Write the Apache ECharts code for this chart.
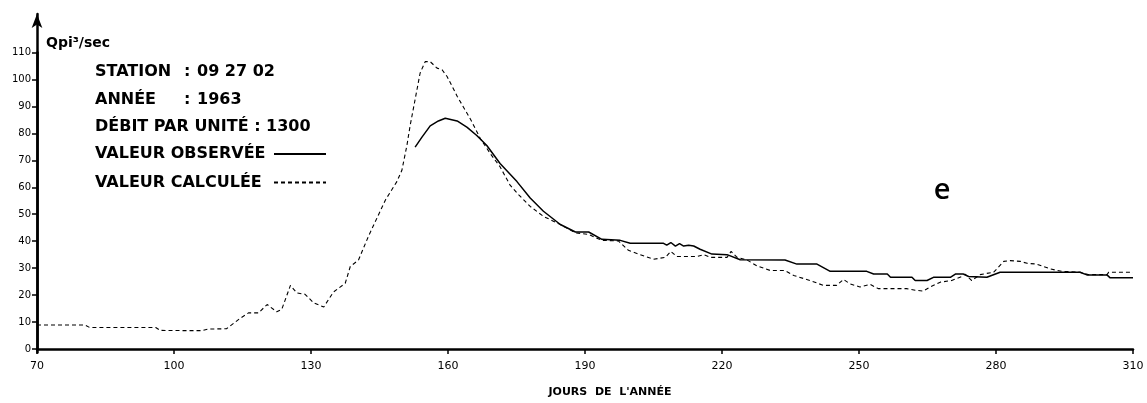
<!DOCTYPE html>
<html>
<head>
<meta charset="utf-8">
<script src="https://cdn.jsdelivr.net/npm/echarts@6/dist/echarts.min.js"></script>
<style>
html,body{margin:0;padding:0;background:#fff;}
#chart{width:1147px;height:403px;}
</style>
</head>
<body>
<div id="chart"></div>
<script>
// ---- data ----
var xTicks = [70, 100, 130, 160, 190, 220, 250, 280, 310];
var yTicks = [0, 10, 20, 30, 40, 50, 60, 70, 80, 90, 100, 110];

var calcDays = [70, 80.5, 81.5, 96, 97, 104, 106, 107.5, 111.5, 114.5, 116.3, 118.5, 120.4, 122.5, 123.6,
  125.5, 126.9, 128.7, 130.6, 132.8, 134.9, 137.5, 138.6, 140.4, 142.6, 146.3, 148.8, 149.9, 151, 151.7,
  152.8, 153.9, 155, 156.1, 157.6, 158.7, 159.8, 162, 164.9, 167.1, 169.3, 171.4, 173.6, 175.5, 178,
  180.9, 184.6, 187.9, 190.8, 193.7, 197.3, 199.5, 202.1, 205, 207.6, 208.8, 210.1, 214.5, 216, 217.5,
  221.1, 222, 223.3, 225.5, 227.6, 230.6, 233.8, 235.7, 239.3, 242.2, 245.1, 246.6, 248, 250.2, 252.4,
  254.2, 260.4, 262.3, 264.1, 265.6, 267.8, 270.3, 272.5, 273.2, 274.7, 276.5, 279.5, 281.7, 283.1,
  285.3, 286.8, 288.9, 291.9, 294.4, 298.4, 300.2, 304.3, 304.7, 310];
var calcValues = [8.9, 8.9, 8.0, 8.0, 6.9, 6.8, 6.8, 7.4, 7.5, 11.4, 13.4, 13.4, 16.5, 13.8, 14.7,
  23.6, 20.8, 20.3, 17.1, 15.6, 21.1, 24.4, 30.6, 33, 41.9, 55.3, 62.1, 66.3, 75.5, 82.8,
  92.6, 102.4, 106.6, 106.6, 104.2, 103.6, 101.1, 93.8, 85.3, 78, 72.4, 67.6, 60.8, 57.2, 52.9,
  49.2, 46.2, 43.1, 42.5, 40.3, 40.1, 36.6, 35, 33.3, 34, 36.2, 34.3, 34.3, 35, 34,
  34, 36.2, 34, 33, 30.9, 29.1, 29.1, 27.3, 25.4, 23.6, 23.6, 25.8, 24.2, 23, 24,
  22.4, 22.4, 21.8, 21.5, 23, 24.8, 25.4, 26.9, 27.8, 25.4, 27.6, 28.5, 32.5, 32.8,
  32.5, 31.8, 31.5, 29.7, 28.8, 28.5, 27.6, 27.6, 28.5, 28.5];

var obsDays = [152.8, 154.3, 156.1, 157.9, 159.4, 162, 164.2, 166.3, 168.5, 171.4, 175.1, 178, 180.9,
  184.6, 187.9, 190.8, 193.7, 197.7, 199.9, 207.2, 207.9, 208.8, 209.8, 210.7, 211.6, 212.7, 213.8,
  215.2, 217.8, 221.1, 224, 233.8, 236.4, 240.8, 243.7, 251.7, 253.2, 256.2, 256.9, 261.6, 262.3,
  264.9, 266.3, 270, 271.1, 272.9, 274, 278, 280.9, 298.4, 299.9, 304.3, 305, 310];
var obsValues = [74.9, 78.6, 82.8, 84.6, 85.6, 84.6, 82.2, 79.2, 75.5, 68.8, 62.1, 56, 51.1,
  46.2, 43.4, 43.4, 40.7, 40.3, 39.2, 39.2, 38.5, 39.5, 38.2, 39.1, 38.2, 38.5, 38.2,
  37, 35.2, 35, 33.1, 33, 31.5, 31.5, 28.8, 28.8, 27.8, 27.8, 26.6, 26.6, 25.4,
  25.4, 26.6, 26.6, 27.8, 27.8, 26.9, 26.6, 28.5, 28.5, 27.5, 27.5, 26.4, 26.4];

var seriesNames = ['VALEUR OBSERVÉE', 'VALEUR CALCULÉE'];
var infoLines = [
  ['STATION', ':', '09 27 02'],
  ['ANNÉE', ':', '1963'],
  ['DÉBIT PAR UNITÉ : 1300', '', '']
];
var yUnit = 'Qpi³/sec';
var xName = 'JOURS  DE  L\'ANNÉE';
var panelTag = 'e';

function zip(a, b) { return a.map(function (v, i) { return [v, b[i]]; }); }

var FONT = 'DejaVu Sans';
var chart = echarts.init(document.getElementById('chart'), null, {renderer: 'canvas'});

var infoGraphics = [];
infoLines.forEach(function (ln, i) {
  var y = 72 + i * 27.5;
  infoGraphics.push({type: 'text', x: 95, y: y, style: {text: ln[0], font: 'bold 16px "' + FONT + '"', fill: '#000', textVerticalAlign: 'middle'}});
  if (ln[1]) infoGraphics.push({type: 'text', x: 184, y: y, style: {text: ln[1], font: 'bold 16px "' + FONT + '"', fill: '#000', textVerticalAlign: 'middle'}});
  if (ln[2]) infoGraphics.push({type: 'text', x: 197, y: y, style: {text: ln[2], font: 'bold 16px "' + FONT + '"', fill: '#000', textVerticalAlign: 'middle'}});
});
infoGraphics.push({type: 'text', x: 46, y: 43, style: {text: yUnit, font: 'bold 14px "' + FONT + '"', fill: '#000', textVerticalAlign: 'middle'}});
infoGraphics.push({type: 'text', x: 942, y: 191, style: {text: panelTag, font: '600 29px "Open Sans"', fill: '#000', textAlign: 'center', textVerticalAlign: 'middle'}});

var option = {
  backgroundColor: '#fff',
  animation: false,
  grid: [
    {left: 37, right: 14, top: 52.5, bottom: 50.5},
    {left: 37, right: 14, top: 14, bottom: 50.5}
  ],
  legend: {
    orient: 'vertical',
    left: 95,
    top: 146,
    padding: 0,
    align: 'right',
    itemWidth: 52,
    itemHeight: 14,
    itemGap: 12.5,
    data: seriesNames,
    formatter: function (name) { return '{t|' + name + '}'; },
    itemStyle: {color: 'rgba(0,0,0,0)', borderColor: 'rgba(0,0,0,0)', borderWidth: 0},
    textStyle: {
      fontFamily: FONT, fontWeight: 'bold', fontSize: 16, color: '#000',
      rich: {t: {width: 174, fontFamily: FONT, fontWeight: 'bold', fontSize: 16, color: '#000', align: 'left'}}
    }
  },
  xAxis: [{
    type: 'value', min: xTicks[0], max: xTicks[xTicks.length - 1], interval: 30,
    name: xName, nameLocation: 'middle', nameGap: 38,
    nameTextStyle: {fontFamily: FONT, fontWeight: 'bold', fontSize: 11, color: '#000', padding: [0, 0, 0, 50]},
    axisLine: {show: true, lineStyle: {color: '#000', width: 2.5}},
    axisTick: {show: true, length: 5, lineStyle: {color: '#000', width: 1.5}},
    axisLabel: {margin: 12, fontFamily: FONT, fontSize: 11, color: '#000'},
    splitLine: {show: false}
  }, {
    gridIndex: 1, type: 'value', min: 0, max: 1, show: false
  }],
  yAxis: [{
    type: 'value', min: yTicks[0], max: yTicks[yTicks.length - 1], interval: 10,
    axisLine: {show: true, lineStyle: {color: '#000', width: 2.5}},
    axisTick: {show: true, length: 5, lineStyle: {color: '#000', width: 1.5}},
    axisLabel: {margin: 6, fontFamily: FONT, fontSize: 10, color: '#000'},
    splitLine: {show: false}
  }, {
    gridIndex: 1, type: 'value', min: 0, max: 1,
    axisLine: {show: true, symbol: ['none', 'arrow'], symbolSize: [8, 14], lineStyle: {color: '#000', width: 2.5}},
    axisTick: {show: false}, axisLabel: {show: false}, splitLine: {show: false}
  }],
  graphic: infoGraphics,
  series: [{
    name: seriesNames[0], type: 'line', data: zip(obsDays, obsValues),
    symbol: 'none', smooth: false,
    lineStyle: {color: '#000', width: 1.5, type: 'solid'},
    itemStyle: {color: '#000'}
  }, {
    name: seriesNames[1], type: 'line', data: zip(calcDays, calcValues),
    symbol: 'none', smooth: false,
    lineStyle: {color: '#000', width: 1.1, type: [4, 3]},
    itemStyle: {color: '#000'}
  }]
};
chart.setOption(option);
</script>
</body>
</html>
